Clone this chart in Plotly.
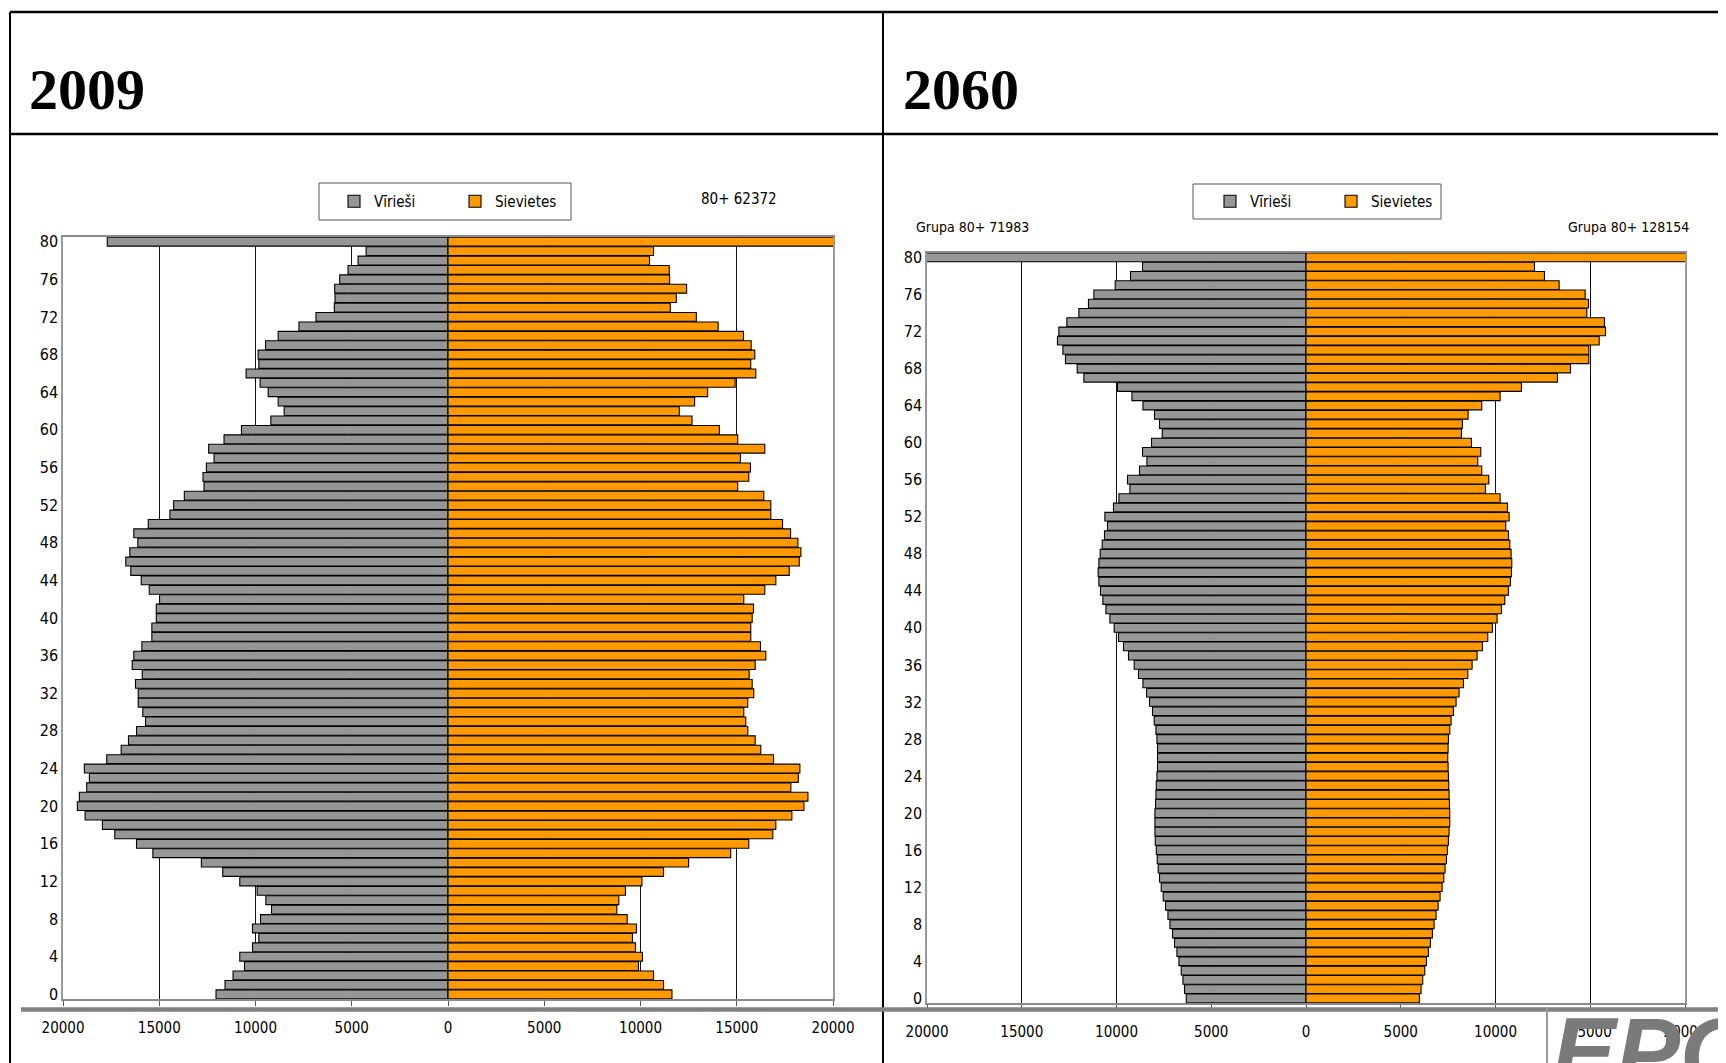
import plotly.graph_objects as go

# ---------------- data ----------------
ages = list(range(81))            # 80 = "80+"
tick_ages = list(range(0, 81, 4))
x_tickvals = [-20000, -15000, -10000, -5000, 0, 5000, 10000, 15000, 20000]
x_ticktext = ["20000", "15000", "10000", "5000", "0", "5000", "10000", "15000", "20000"]

men_2009 = [12051, 11583, 11166, 10572, 10817, 10156, 9828, 10156, 9739, 9166,
            9463, 9916, 10817, 11702, 12812, 15332, 16181, 17311, 17952, 18853,
            19254, 19150, 18770, 18629, 18890, 17728, 16978, 16598, 16181, 15712,
            15853, 16093, 16093, 16233, 15884, 16405, 16322, 15905, 15384, 15384,
            15155, 15155, 14983, 15520, 15936, 16478, 16738, 16530, 16114, 16322,
            15572, 14447, 14254, 13697, 12676, 12728, 12551, 12155, 12432, 11635,
            10729, 9203, 8510, 8822, 9343, 9760, 10489, 9828, 9863, 9479,
            8822, 7744, 6858, 5904, 5870, 5885, 5625, 5192, 4672, 4255,
            17700]
women_2009 = [11635, 11197, 10677, 9895, 10103, 9739, 9583, 9791, 9307, 8770,
              8874, 9218, 10072, 11197, 12499, 14687, 15624, 16874, 17030, 17863,
              18489, 18697, 17811, 18197, 18280, 16910, 16249, 15957, 15572, 15468,
              15364, 15572, 15884, 15801, 15645, 15957, 16510, 16233, 15728, 15728,
              15801, 15869, 15364, 16457, 17030, 17728, 18249, 18332, 18176, 17796,
              17379, 16770, 16770, 16405, 15051, 15624, 15712, 15192, 16457, 15051,
              14098, 12676, 12015, 12812, 13489, 14916, 15989, 15728, 15936, 15749,
              15348, 14030, 12900, 11546, 11859, 12395, 11512, 11494, 10468, 10677,
              62372]
men_2060 = [6320, 6410, 6494, 6584, 6706, 6811, 6938, 7043, 7181, 7286,
            7413, 7535, 7640, 7730, 7799, 7850, 7900, 7955, 7973, 7973,
            7973, 7940, 7920, 7900, 7867, 7835, 7835, 7835, 7867, 7920,
            8010, 8100, 8258, 8416, 8606, 8839, 9066, 9367, 9631, 9895,
            10122, 10349, 10560, 10718, 10845, 10930, 10967, 10930, 10861, 10755,
            10634, 10476, 10613, 10159, 9874, 9293, 9420, 8786, 8395, 8627,
            8152, 7587, 7730, 7994, 8606, 9187, 9947, 11722, 12075, 12693,
            12830, 13115, 13042, 12619, 11986, 11479, 11194, 10069, 9261, 8627,
            71983]
women_2060 = [5984, 6072, 6160, 6266, 6354, 6459, 6565, 6670, 6758, 6864,
              6970, 7075, 7181, 7269, 7339, 7410, 7462, 7515, 7550, 7586,
              7586, 7568, 7550, 7533, 7515, 7498, 7480, 7498, 7515, 7586,
              7656, 7779, 7920, 8078, 8307, 8536, 8765, 9029, 9310, 9592,
              9838, 10085, 10314, 10490, 10683, 10789, 10842, 10859, 10824, 10754,
              10683, 10542, 10718, 10630, 10243, 9469, 9645, 9275, 9064, 9222,
              8730, 8202, 8254, 8554, 9275, 10243, 11370, 13270, 13957, 14925,
              14925, 15470, 15805, 15752, 14819, 14907, 14731, 13358, 12584, 12056,
              128154]

name_men = "Vīrieši"
name_women = "Sievietes"
title_left = "2009"
title_right = "2060"
note_2009 = "80+ 62372"
note_2060_men = "Grupa 80+ 71983"
note_2060_women = "Grupa 80+ 128154"

# ---------------- styling ----------------
W, H = 1726, 1063
OFF = 8  # page body margin of the browser
def fx(p): return (p - OFF) / W
def fy(p): return 1 - (p - OFF) / H

NARROW = "Liberation Sans Narrow, Arial Narrow, DejaVu Sans Condensed, Liberation Sans, sans-serif"
SERIF = "Liberation Serif, Times New Roman, serif"
GREY = "#969696"
ORANGE = "#FF9900"
bar_line = dict(color="black", width=1.1)

fig = go.Figure()
fig.add_trace(go.Bar(y=ages, x=[-v for v in men_2009], orientation="h", name=name_men,
                     marker=dict(color=GREY, line=bar_line), xaxis="x", yaxis="y",
                     legend="legend", customdata=men_2009,
                     hovertemplate="%{y}: %{customdata}<extra></extra>"))
fig.add_trace(go.Bar(y=ages, x=women_2009, orientation="h", name=name_women,
                     marker=dict(color=ORANGE, line=bar_line), xaxis="x", yaxis="y",
                     legend="legend"))
fig.add_trace(go.Bar(y=ages, x=[-v for v in men_2060], orientation="h", name=name_men,
                     marker=dict(color=GREY, line=bar_line), xaxis="x2", yaxis="y2",
                     legend="legend2", customdata=men_2060,
                     hovertemplate="%{y}: %{customdata}<extra></extra>"))
fig.add_trace(go.Bar(y=ages, x=women_2060, orientation="h", name=name_women,
                     marker=dict(color=ORANGE, line=bar_line), xaxis="x2", yaxis="y2",
                     legend="legend2"))

def xax(domain, anchor):
    return dict(domain=domain, anchor=anchor, range=[-20000, 20000],
                tickvals=x_tickvals, ticktext=x_ticktext, automargin=False,
                showgrid=True, gridcolor="#111111", gridwidth=1, zeroline=False,
                showline=True, linecolor="#8a8a8a", linewidth=1.5, mirror=True,
                ticks="outside", ticklen=5, tickcolor="#555555", tickwidth=1,
                tickfont=dict(family=NARROW, size=15, color="black"),
                ticklabelstandoff=9, fixedrange=True)

def yax(domain, anchor):
    return dict(domain=domain, anchor=anchor, range=[-0.5, 80.5],
                tickvals=tick_ages, ticktext=[str(a) for a in tick_ages], automargin=False,
                showgrid=False, zeroline=False, showline=True, linecolor="#9a9a9a",
                linewidth=1.5, mirror=True, ticks="",
                tickfont=dict(family=NARROW, size=16, color="black"), fixedrange=True)

leg_common = dict(orientation="h", xanchor="left", yanchor="middle",
                  bgcolor="rgba(0,0,0,0)", borderwidth=0,
                  font=dict(family=NARROW, size=15, color="black"),
                  itemwidth=30, entrywidth=76, entrywidthmode="pixels",
                  traceorder="normal", itemclick=False, itemdoubleclick=False)

line_blk = dict(color="black", width=2.5)
shapes = [
    dict(type="line", xref="paper", yref="paper", x0=fx(10), x1=1, y0=fy(12), y1=fy(12), line=line_blk),
    dict(type="line", xref="paper", yref="paper", x0=fx(10), x1=1, y0=fy(134), y1=fy(134), line=line_blk),
    dict(type="line", xref="paper", yref="paper", x0=fx(10), x1=fx(10), y0=fy(12), y1=0, line=dict(color="black", width=2)),
    dict(type="line", xref="paper", yref="paper", x0=fx(883), x1=fx(883), y0=fy(12), y1=0, line=dict(color="black", width=2)),
    dict(type="line", xref="paper", yref="paper", x0=fx(21), x1=1, y0=fy(1009.5), y1=fy(1009.5), line=dict(color="#808080", width=4.5)),
    dict(type="line", xref="paper", yref="paper", x0=fx(1547), x1=fx(1547), y0=fy(1008), y1=0, line=dict(color="#9a9a9a", width=2)),
    dict(type="rect", xref="paper", yref="paper", x0=fx(319), x1=fx(571), y0=fy(220), y1=fy(183), line=dict(color="#555555", width=1)),
    dict(type="rect", xref="paper", yref="paper", x0=fx(1193), x1=fx(1441), y0=fy(219), y1=fy(184), line=dict(color="#555555", width=1)),
]

annotations = [
    dict(text=title_left, x=fx(27), y=fy(90), xref="paper", yref="paper", xanchor="left", yanchor="middle",
         showarrow=False, font=dict(family=SERIF, size=58, color="black", weight="bold")),
    dict(text=title_right, x=fx(901), y=fy(90), xref="paper", yref="paper", xanchor="left", yanchor="middle",
         showarrow=False, font=dict(family=SERIF, size=58, color="black", weight="bold")),
    dict(text=note_2009, x=fx(739), y=fy(199), xref="paper", yref="paper", xanchor="center", yanchor="middle",
         showarrow=False, font=dict(family=NARROW, size=15, color="black")),
    dict(text=note_2060_men, x=fx(973), y=fy(227), xref="paper", yref="paper", xanchor="center", yanchor="middle",
         showarrow=False, font=dict(family=NARROW, size=14, color="black")),
    dict(text=note_2060_women, x=fx(1628), y=fy(227), xref="paper", yref="paper", xanchor="center", yanchor="middle",
         showarrow=False, font=dict(family=NARROW, size=14, color="black")),
    dict(text="EPC", x=fx(1550), y=fy(996), xref="paper", yref="paper", xanchor="left", yanchor="top",
         showarrow=False, font=dict(family="Liberation Sans, sans-serif", size=96, color="#7a7a7a",
                                    weight="bold", style="italic")),
]

fig.update_layout(
    width=W, height=H, margin=dict(l=0, r=0, t=0, b=0, autoexpand=False),
    paper_bgcolor="white", plot_bgcolor="white",
    barmode="relative", bargap=0.06,
    showlegend=True,
    xaxis=xax([fx(63), fx(833)], "y"),
    yaxis=yax([fy(999), fy(237)], "x"),
    xaxis2=xax([fx(927), fx(1685)], "y2"),
    yaxis2=yax([fy(1003), fy(252.7)], "x2"),
    legend=dict(leg_common, x=fx(334), y=fy(201.5)),
    legend2=dict(leg_common, x=fx(1210), y=fy(201.5)),
    shapes=shapes,
    annotations=annotations,
)

fig.write_html("out.html")
